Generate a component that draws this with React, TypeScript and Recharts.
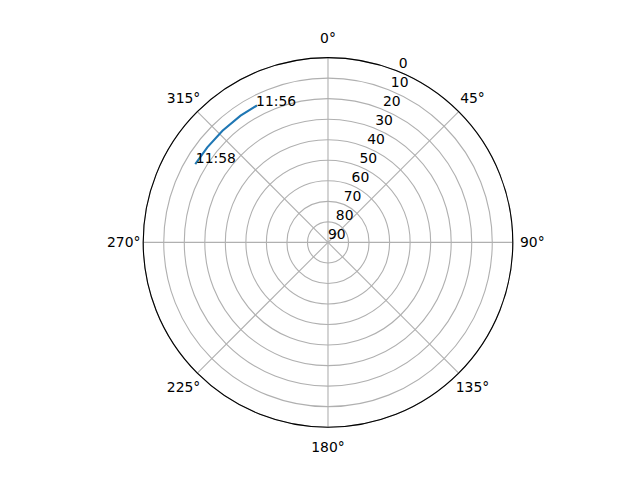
import React from 'react'
import {
  RadarChart,
  Radar,
  PolarGrid,
  PolarAngleAxis,
  PolarRadiusAxis,
} from 'recharts'

// track (azimuth clockwise from north, elevation in degrees)
const times = ['11:56', '11:56:30', '11:57', '11:57:30', '11:58']
const azimuth = [332.2, 325.4, 316.6, 308.2, 300.9]
const elevation = [14.9, 15.0, 15.2, 15.2, 15.0]

const angleTicks = [0, 45, 90, 135, 180, 225, 270, 315]
const radiusTicks = [0, 10, 20, 30, 40, 50, 60, 70, 80, 90]
const labelledTimes = ['11:56', '11:58']

const data = times.map((t, i) => ({ time: t, az: azimuth[i], el: elevation[i] }))

const FONT = 'DejaVu Sans, sans-serif'
const FS = 13.9

const AngleTick = (props: any) => {
  const { x, y, payload } = props
  return (
    <text
      x={x}
      y={y + FS * 0.36}
      textAnchor="middle"
      fontFamily={FONT}
      fontSize={FS}
      fill="#000"
    >
      {payload.value}°
    </text>
  )
}

const RadiusTick = (props: any) => {
  const { x, y, payload } = props
  return (
    <text x={x} y={y - FS * 0.236} textAnchor="start" fontFamily={FONT} fontSize={FS} fill="#000">
      {payload.value}
    </text>
  )
}

const TrackShape = (props: any) => {
  const pts: any[] = props.points || []
  if (!pts.length) return null
  const d = pts.map((p, i) => `${i === 0 ? 'M' : 'L'}${p.x},${p.y}`).join(' ')
  return (
    <g>
      <path d={d} fill="none" stroke="#1f77b4" strokeWidth={2.08} strokeLinecap="square" />
      {pts
        .filter((p) => labelledTimes.includes(p.payload?.time))
        .map((p) => (
          <text
            key={p.payload.time}
            x={p.x}
            y={p.y}
            textAnchor="start"
            fontFamily={FONT}
            fontSize={FS}
            fill="#000"
          >
            {p.payload.time}
          </text>
        ))}
    </g>
  )
}

export default function App() {
  return (
    <div style={{ position: 'absolute', left: 0, top: 0, width: 640, height: 480, background: '#fff' }}>
      <RadarChart
        width={640}
        height={480}
        data={data}
        cx={328}
        cy={242.4}
        innerRadius={0}
        outerRadius={184.8}
        startAngle={90}
        endAngle={-270}
        margin={{ top: 0, right: 0, bottom: 0, left: 0 }}
      >
        <PolarGrid gridType="circle" stroke="#b0b0b0" strokeWidth={1.1} />
        <PolarAngleAxis
          dataKey="az"
          type="number"
          domain={[0, 360]}
          ticks={angleTicks}
          tickCount={9}
          tick={<AngleTick />}
          tickLine={false}
          tickSize={19.5}
          axisLineType="circle"
          axisLine={{ stroke: '#000', strokeWidth: 1.1 }}
        />
        <PolarRadiusAxis
          angle={67.5}
          type="number"
          domain={[0, 90]}
          ticks={radiusTicks}
          tickCount={10}
          reversed
          axisLine={false}
          tickLine={false}
          tick={<RadiusTick />}
        />
        <Radar
          dataKey="el"
          isAnimationActive={false}
          dot={false}
          shape={<TrackShape />}
        />
      </RadarChart>
    </div>
  )
}
